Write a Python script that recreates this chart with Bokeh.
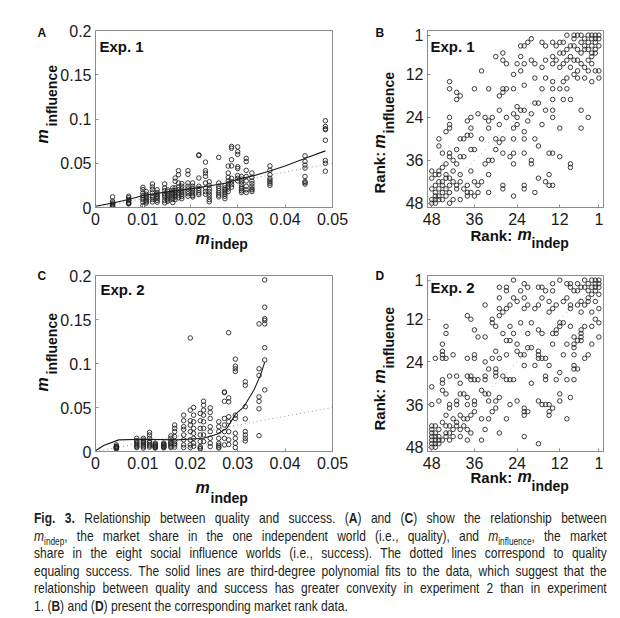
import math
from bokeh.plotting import figure
from bokeh.models import Range1d, FixedTicker, CustomJSTickFormatter, Label, Div, GridBox
from bokeh.layouts import column, row
from bokeh.embed import file_html
from bokeh.resources import INLINE

# ---------------- data ----------------
# Panel A (Exp. 1): market share in independent world vs. 8 influence worlds
a_indep = [0.0036, 0.0070, 0.0100, 0.0107, 0.0120, 0.0130, 0.0146, 0.0152, 0.0163, 0.0168,
           0.0175, 0.0182, 0.0195, 0.0205, 0.0218, 0.0232, 0.0240, 0.0260, 0.0273, 0.0280,
           0.0287, 0.0300, 0.0308, 0.0318, 0.0330, 0.0368, 0.0442, 0.0485]
a_influence = [
    [0.0120, 0.0052, 0.0030, 0.0010, 0.0005, 0.0020, 0.0040, 0.0070],
    [0.0127, 0.0090, 0.0041, 0.0050, 0.0060, 0.0110, 0.0080, 0.0045],
    [0.0228, 0.0202, 0.0165, 0.0135, 0.0109, 0.0090, 0.0060, 0.0022],
    [0.0180, 0.0150, 0.0130, 0.0110, 0.0095, 0.0080, 0.0065, 0.0050],
    [0.0266, 0.0232, 0.0202, 0.0165, 0.0127, 0.0090, 0.0063, 0.0110],
    [0.0200, 0.0170, 0.0150, 0.0130, 0.0115, 0.0100, 0.0080, 0.0060],
    [0.0266, 0.0221, 0.0191, 0.0154, 0.0116, 0.0079, 0.0052, 0.0135],
    [0.0200, 0.0180, 0.0160, 0.0140, 0.0120, 0.0100, 0.0085, 0.0070],
    [0.0221, 0.0190, 0.0170, 0.0150, 0.0130, 0.0110, 0.0090, 0.0055],
    [0.0333, 0.0296, 0.0221, 0.0190, 0.0165, 0.0140, 0.0120, 0.0090],
    [0.0416, 0.0371, 0.0277, 0.0230, 0.0200, 0.0170, 0.0140, 0.0110],
    [0.0270, 0.0240, 0.0210, 0.0185, 0.0165, 0.0145, 0.0125, 0.0100],
    [0.0416, 0.0375, 0.0277, 0.0240, 0.0210, 0.0180, 0.0155, 0.0127],
    [0.0277, 0.0240, 0.0215, 0.0195, 0.0175, 0.0155, 0.0135, 0.0120],
    [0.0595, 0.0588, 0.0333, 0.0240, 0.0215, 0.0190, 0.0165, 0.0145],
    [0.0513, 0.0416, 0.0390, 0.0352, 0.0277, 0.0220, 0.0180, 0.0150],
    [0.0290, 0.0250, 0.0210, 0.0180, 0.0150, 0.0120, 0.0090, 0.0065],
    [0.0566, 0.0277, 0.0240, 0.0215, 0.0190, 0.0165, 0.0140, 0.0120],
    [0.0247, 0.0202, 0.0165, 0.0127, 0.0100, 0.0150, 0.0185, 0.0220],
    [0.0468, 0.0390, 0.0340, 0.0300, 0.0270, 0.0240, 0.0210, 0.0180],
    [0.0690, 0.0670, 0.0540, 0.0470, 0.0330, 0.0290, 0.0260, 0.0230],
    [0.0685, 0.0630, 0.0600, 0.0460, 0.0440, 0.0360, 0.0330, 0.0300],
    [0.0350, 0.0320, 0.0290, 0.0260, 0.0230, 0.0210, 0.0190, 0.0170],
    [0.0555, 0.0520, 0.0420, 0.0350, 0.0300, 0.0240, 0.0200, 0.0170],
    [0.0390, 0.0340, 0.0300, 0.0270, 0.0240, 0.0210, 0.0200, 0.0180],
    [0.0470, 0.0420, 0.0370, 0.0330, 0.0310, 0.0290, 0.0270, 0.0250],
    [0.0584, 0.0520, 0.0480, 0.0445, 0.0350, 0.0295, 0.0280, 0.0265],
    [0.0980, 0.0915, 0.0890, 0.0880, 0.0760, 0.0530, 0.0500, 0.0410],
]
# third-degree polynomial fit (solid line)
a_fit_x = [0.0, 0.0036, 0.0070, 0.0100, 0.0137, 0.0172, 0.0200, 0.0235, 0.0277, 0.0300,
           0.0334, 0.0366, 0.0400, 0.0440, 0.0485]
a_fit_y = [0.0015, 0.0050, 0.0090, 0.0135, 0.0165, 0.0190, 0.0210, 0.0240, 0.0277, 0.0320,
           0.0360, 0.0410, 0.0470, 0.0550, 0.0640]

# Panel C (Exp. 2)
c_indep = [0.0044, 0.0087, 0.0101, 0.0114, 0.0126, 0.0144, 0.0159, 0.0167, 0.0186, 0.0200,
           0.0207, 0.0221, 0.0228, 0.0242, 0.0260, 0.0272, 0.0281, 0.0295, 0.0316, 0.0345, 0.0357]
c_influence = [
    [0.0075, 0.0060, 0.0055, 0.0050, 0.0045, 0.0040, 0.0035, 0.0030],
    [0.0150, 0.0124, 0.0110, 0.0094, 0.0080, 0.0068, 0.0055, 0.0045],
    [0.0150, 0.0130, 0.0115, 0.0100, 0.0085, 0.0070, 0.0055, 0.0040],
    [0.0218, 0.0188, 0.0150, 0.0120, 0.0100, 0.0080, 0.0065, 0.0050],
    [0.0095, 0.0085, 0.0075, 0.0068, 0.0060, 0.0052, 0.0045, 0.0040],
    [0.0095, 0.0085, 0.0078, 0.0070, 0.0062, 0.0055, 0.0048, 0.0042],
    [0.0177, 0.0150, 0.0120, 0.0100, 0.0090, 0.0075, 0.0060, 0.0045],
    [0.0301, 0.0263, 0.0226, 0.0170, 0.0113, 0.0090, 0.0075, 0.0050],
    [0.0413, 0.0350, 0.0282, 0.0252, 0.0188, 0.0132, 0.0075, 0.0045],
    [0.1290, 0.0470, 0.0350, 0.0300, 0.0226, 0.0132, 0.0075, 0.0045],
    [0.0500, 0.0413, 0.0338, 0.0263, 0.0207, 0.0150, 0.0094, 0.0060],
    [0.0432, 0.0350, 0.0263, 0.0188, 0.0113, 0.0056, 0.0040, 0.0030],
    [0.0571, 0.0526, 0.0470, 0.0413, 0.0338, 0.0263, 0.0188, 0.0113],
    [0.0496, 0.0444, 0.0376, 0.0282, 0.0226, 0.0150, 0.0094, 0.0056],
    [0.0338, 0.0282, 0.0226, 0.0150, 0.0094, 0.0070, 0.0050, 0.0040],
    [0.0677, 0.0669, 0.0571, 0.0376, 0.0301, 0.0226, 0.0150, 0.0075],
    [0.1350, 0.0609, 0.0564, 0.0395, 0.0338, 0.0226, 0.0132, 0.0080],
    [0.1050, 0.0970, 0.0940, 0.0910, 0.0413, 0.0376, 0.0207, 0.0150, 0.0094, 0.0045],
    [0.0792, 0.0752, 0.0509, 0.0370, 0.0226, 0.0188, 0.0150, 0.0120],
    [0.1450, 0.0940, 0.0865, 0.0620, 0.0570, 0.0485, 0.0180],
    [0.1950, 0.1640, 0.1510, 0.1490, 0.1450, 0.1180, 0.1040, 0.0700],
]
c_fit_x = [0.0, 0.0017, 0.0049, 0.0101, 0.0172, 0.0228, 0.0256, 0.0277, 0.0295, 0.0313,
           0.0334, 0.0348, 0.0357]
c_fit_y = [0.0008, 0.0068, 0.0132, 0.0139, 0.0132, 0.0150, 0.0195, 0.0263, 0.0421, 0.0508,
           0.0695, 0.0865, 0.1015]

# quality equals success (dotted lines)
equal_share = [0.0, 0.05]
equal_rank = [48, 1]

# Panel B (Exp. 1): (rank in independent world, rank in an influence world)
b_ranks = [
    (1, 1), (2, 1), (2, 2), (3, 2), (4, 3), (5, 4), (6, 3), (7, 1), (8, 1), (8, 2), (9, 4), (10, 1),
    (11, 3), (12, 3), (13, 4), (14, 3), (16, 4), (17, 3), (20, 2), (21, 3), (22, 4), (23, 4),
    (2, 5), (3, 6), (3, 7), (5, 5), (6, 6), (7, 8), (8, 8), (9, 7), (10, 8), (11, 6), (11, 9),
    (12, 10), (14, 9), (14, 7), (16, 8), (17, 10), (19, 9), (20, 8), (22, 9), (23, 7), (24, 9),
    (27, 9), (28, 6), (28, 8), (30, 7), (34, 11), (7, 11), (4, 11), (2, 11), (1, 11),
    (1, 13), (3, 14), (5, 13), (7, 13), (8, 12), (10, 13), (10, 16), (11, 14), (12, 16), (14, 14),
    (14, 16), (16, 13), (17, 16), (19, 13), (22, 15), (23, 11), (25, 12), (25, 16), (27, 16),
    (28, 16), (29, 18), (28, 17), (32, 16), (36, 16), (43, 14), (43, 16), (41, 17),
    (6, 22), (4, 24), (9, 19), (11, 19), (14, 19), (14, 22), (16, 22), (18, 20), (19, 20), (20, 23),
    (22, 22), (23, 22), (24, 21), (25, 23), (27, 24), (29, 22), (31, 24), (33, 24), (35, 23),
    (37, 24), (38, 25), (40, 18), (41, 19), (43, 24), (43, 26),
    (6, 27), (12, 27), (14, 24), (17, 26), (19, 30), (21, 25), (22, 30), (22, 28), (24, 24),
    (24, 26), (25, 27), (25, 30), (28, 30), (29, 26), (30, 30), (32, 25), (32, 27), (34, 30),
    (37, 29), (38, 29), (37, 27), (39, 30), (40, 30), (43, 27), (44, 28), (46, 30),
    (9, 37), (12, 35), (14, 34), (15, 34), (18, 32), (20, 37), (20, 36), (22, 34), (25, 34),
    (26, 35), (28, 34), (29, 31), (30, 33), (31, 36), (33, 37), (32, 36), (36, 33), (37, 33),
    (39, 35), (40, 35), (41, 33), (43, 34), (43, 35), (45, 34), (46, 32),
    (9, 38), (15, 40), (16, 42), (18, 41), (22, 43), (25, 37), (28, 43), (32, 40), (34, 42),
    (35, 43), (37, 39), (38, 43), (38, 45), (40, 40), (41, 43), (42, 39), (43, 43), (44, 41),
    (45, 42), (45, 38), (46, 39), (46, 40), (46, 42), (45, 43), (47, 43), (48, 41),
    (14, 43), (15, 43), (19, 45), (22, 44), (25, 46), (28, 44), (32, 45), (35, 45), (36, 46),
    (38, 46), (40, 47), (42, 47), (43, 45), (43, 48), (44, 46), (45, 45), (46, 47), (47, 46),
    (48, 47), (48, 48), (47, 48),
    (1, 2), (2, 3), (3, 4), (4, 5), (1, 4), (2, 6), (3, 9), (4, 8), (5, 10), (6, 9), (5, 2),
    (7, 5), (8, 4), (9, 10), (10, 5), (12, 6), (13, 8), (4, 1), (3, 1), (6, 1),
    (47, 45), (46, 44), (48, 44), (44, 44), (45, 47), (46, 46), (47, 47), (44, 40), (43, 41),
    (42, 42), (41, 44), (40, 42), (39, 44), (36, 42), (37, 45), (42, 36), (41, 37), (44, 37),
    (48, 39), (47, 40),
]

# Panel D (Exp. 2)
d_ranks = [
    (1, 1), (2, 1), (2, 2), (3, 1), (4, 2), (5, 1), (6, 3), (7, 4), (7, 2), (8, 4), (9, 2), (9, 3),
    (10, 2), (12, 1), (14, 2), (14, 4), (16, 4), (17, 3), (18, 3), (21, 3), (22, 2), (23, 4),
    (25, 1), (27, 3), (27, 4), (29, 3), (29, 6),
    (1, 2), (3, 5), (2, 3), (4, 7), (5, 8), (6, 7), (7, 8), (9, 8), (9, 9), (10, 6), (11, 7),
    (13, 8), (14, 9), (15, 10), (15, 7), (17, 6), (18, 8), (19, 9), (21, 8), (22, 6), (22, 9),
    (24, 7), (25, 6), (26, 8), (27, 9), (28, 10), (29, 9), (29, 11), (33, 8), (37, 12), (38, 11),
    (31, 12),
    (1, 13), (3, 14), (5, 14), (6, 15), (6, 16), (6, 17), (7, 18), (8, 17), (9, 14), (11, 13),
    (12, 14), (12, 13), (13, 15), (13, 16), (14, 16), (17, 16), (18, 15), (20, 13), (21, 16),
    (23, 13), (25, 16), (26, 14), (27, 18), (28, 16), (30, 14), (31, 13), (33, 17), (36, 15),
    (35, 17), (44, 14), (44, 16),
    (1, 17), (3, 19), (4, 22), (5, 23), (6, 18), (8, 19), (8, 20), (8, 22), (10, 19), (11, 22),
    (14, 19), (16, 23), (17, 23), (18, 21), (18, 22), (18, 23), (20, 20), (21, 20), (22, 22),
    (23, 22), (24, 21), (24, 19), (26, 18), (27, 22), (29, 23), (30, 21), (31, 23), (33, 24),
    (36, 23), (36, 22), (38, 23), (42, 22), (45, 19), (45, 21), (45, 22), (45, 23), (47, 23),
    (44, 23),
    (7, 26), (8, 26), (8, 25), (10, 29), (12, 27), (13, 29), (15, 25), (16, 28), (16, 29),
    (19, 25), (20, 30), (22, 25), (25, 29), (26, 29), (27, 29), (28, 28), (30, 26), (30, 28),
    (30, 27), (32, 26), (33, 28), (33, 29), (35, 29), (36, 29), (37, 29), (37, 28), (38, 28),
    (40, 30), (41, 28), (43, 28), (45, 29), (45, 30), (48, 31),
    (8, 29), (9, 34), (12, 33), (12, 35), (14, 37), (15, 36), (16, 36), (18, 35), (21, 38),
    (22, 37), (24, 35), (26, 36), (29, 34), (30, 35), (32, 35), (32, 33), (33, 33), (34, 32),
    (36, 35), (36, 36), (38, 34), (38, 36), (39, 33), (40, 33), (41, 35), (41, 36), (43, 37),
    (43, 36), (44, 33), (45, 32), (46, 35), (48, 36),
    (10, 40), (15, 38), (15, 39), (17, 36), (22, 38), (22, 39), (27, 40), (30, 37), (31, 38),
    (32, 40), (34, 40), (36, 38), (37, 39), (38, 40), (40, 39), (41, 42), (42, 43), (43, 42),
    (44, 42), (45, 41), (46, 43), (47, 42), (48, 43), (48, 42), (41, 41), (39, 42), (38, 43),
    (18, 47), (22, 45), (29, 44), (33, 43), (34, 46), (37, 44), (38, 46), (40, 45), (42, 45),
    (43, 44), (44, 44), (45, 46), (46, 47), (47, 47), (48, 46), (48, 47), (48, 45), (47, 48),
    (48, 48),
    (1, 3), (2, 4), (3, 3), (4, 4), (1, 5), (2, 7), (5, 3), (4, 6), (3, 10), (6, 10), (1, 9),
    (2, 12), (47, 45), (46, 45), (48, 44), (47, 44), (46, 46), (44, 45), (43, 46), (47, 46),
    (42, 40), (40, 43), (39, 40), (44, 39),
]

share_ticks = [0, 0.01, 0.02, 0.03, 0.04, 0.05]
infl_ticks = [0, 0.05, 0.1, 0.15, 0.2]
rank_ticks = [1, 12, 24, 36, 48]

caption_lines = [
    '<b>Fig. 3.</b> Relationship between quality and success. (<b>A</b>) and (<b>C</b>) show the relationship between',
    '<i>m</i><sub style="font-size:10px;line-height:0;">indep</sub>, the market share in the one independent world (i.e., quality), and <i>m</i><sub style="font-size:10px;line-height:0;">influence</sub>, the market',
    'share in the eight social influence worlds (i.e., success). The dotted lines correspond to quality',
    'equaling success. The solid lines are third-degree polynomial fits to the data, which suggest that the',
    'relationship between quality and success has greater convexity in experiment 2 than in experiment',
    '1. (<b>B</b>) and (<b>D</b>) present the corresponding market rank data.',
]

# ---------------- styling helpers ----------------
GRAY = "#8c8c8c"
FONT = "Liberation Sans"
MARK = "#262626"


def make_fig(w, h, bl, br, bt, bb, xr, yr):
    p = figure(width=w, height=h, x_range=xr, y_range=yr, output_backend="svg",
               toolbar_location=None, min_border_left=bl, min_border_right=br,
               min_border_top=bt, min_border_bottom=bb)
    p.grid.visible = False
    p.outline_line_color = GRAY
    p.outline_line_width = 1
    p.background_fill_color = "white"
    p.border_fill_color = "white"
    for ax in p.axis:
        ax.axis_line_color = GRAY
        ax.major_tick_line_color = GRAY
        ax.major_tick_in = 3
        ax.major_tick_out = 0
        ax.minor_tick_in = 0
        ax.minor_tick_out = 0
        ax.major_label_text_font = FONT
        ax.major_label_text_font_size = "16px"
        ax.major_label_text_color = "#1a1a1a"
    p.xaxis.major_label_standoff = 5
    p.yaxis.major_label_standoff = 4
    return p


def share_panel(w, h, bl, br, bt, bb, indep, influence, fit_x, fit_y):
    p = make_fig(w, h, bl, br, bt, bb, Range1d(0, 0.05), Range1d(0, 0.2))
    p.xaxis.ticker = FixedTicker(ticks=share_ticks)
    p.yaxis.ticker = FixedTicker(ticks=infl_ticks)
    p.xaxis.formatter = CustomJSTickFormatter(code="return String(+tick.toFixed(4));")
    p.yaxis.formatter = CustomJSTickFormatter(code="return String(+tick.toFixed(4));")
    xs = [x for x, ys in zip(indep, influence) for _ in ys]
    ys = [y for yy in influence for y in yy]
    p.line(equal_share, equal_share, line_color="#9a9a9a", line_width=1, line_dash="1 3")
    p.scatter(xs, ys, marker="circle", size=4.5, fill_color=None, line_color=MARK,
              line_width=0.9)
    p.line(fit_x, fit_y, line_color="#1a1a1a", line_width=1.1)
    return p


def rank_panel(w, h, bl, br, bt, bb, pairs):
    p = make_fig(w, h, bl, br, bt, bb, Range1d(49.2, -0.3), Range1d(49.2, -0.3))
    p.xaxis.ticker = FixedTicker(ticks=rank_ticks)
    p.yaxis.ticker = FixedTicker(ticks=rank_ticks)
    xs = [a for a, b in pairs]
    ys = [b for a, b in pairs]
    p.line(equal_rank, equal_rank, line_color="#b0b0b0", line_width=1, line_dash="1 4")
    p.scatter(xs, ys, marker="circle", size=4.5, fill_color=None, line_color=MARK,
              line_width=0.9)
    return p


pA = share_panel(350, 258, 95, 18, 30, 50, a_indep, a_influence, a_fit_x, a_fit_y)
pB = rank_panel(262, 258, 77, 9, 30, 51, b_ranks)
pC = share_panel(350, 240, 95, 18, 17, 45, c_indep, c_influence, c_fit_x, c_fit_y)
pD = rank_panel(262, 240, 77, 9, 17, 47, d_ranks)
panels = column(row(pA, pB), row(pC, pD))

# ---- transparent overlay carrying all panel texts, in page pixels ----
TW, TH = 612, 510
ov = figure(width=TW, height=TH, x_range=Range1d(0, TW), y_range=Range1d(TH, 0),
            output_backend="svg", toolbar_location=None, x_axis_type=None, y_axis_type=None,
            min_border=0)
ov.grid.visible = False
ov.outline_line_color = None
ov.background_fill_alpha = 0
ov.border_fill_alpha = 0

ROT = math.pi / 2
texts = [
    # text, x, y(baseline), size, style, angle
    ("A", 37, 36, 12, "bold", 0), ("Exp. 1", 99, 51, 15, "bold", 0),
    ("m", 195, 244, 16, "bold italic", 0), ("indep", 210, 248, 14, "bold", 0),
    ("m", 50, 140, 16, "bold italic", ROT), ("influence", 59, 123, 14, "bold", ROT),
    ("B", 375, 36, 12, "bold", 0), ("Exp. 1", 430, 51, 15, "bold", 0),
    ("Rank:", 470, 240, 15, "bold", 0), ("m", 517, 240, 16, "bold italic", 0),
    ("indep", 531, 247, 14, "bold", 0),
    ("Rank:", 387, 190, 15, "bold", ROT), ("m", 387, 145, 16, "bold italic", ROT),
    ("influence", 396, 130, 14, "bold", ROT),
    ("C", 37, 279, 12, "bold", 0), ("Exp. 2", 100, 294, 15, "bold", 0),
    ("m", 195, 493, 16, "bold italic", 0), ("indep", 210, 502, 14, "bold", 0),
    ("m", 50, 388, 16, "bold italic", ROT), ("influence", 59, 371, 14, "bold", ROT),
    ("D", 375, 279, 12, "bold", 0), ("Exp. 2", 430, 292, 15, "bold", 0),
    ("Rank:", 470, 482, 15, "bold", 0), ("m", 517, 482, 16, "bold italic", 0),
    ("indep", 531, 490, 14, "bold", 0),
    ("Rank:", 387, 427, 15, "bold", ROT), ("m", 387, 380, 16, "bold italic", ROT),
    ("influence", 396, 365, 14, "bold", ROT),
]
for t, x, y, s, st, ang in texts:
    if ang == 0:
        xx, yy = x, y - round(0.35 * s)
    else:
        xx, yy = x - 8, y + 3
    ov.add_layout(Label(x=xx, y=yy, text=t, text_font=FONT, text_font_size=f"{s}px",
                        text_font_style=st, text_color="#111111", text_align="left",
                        text_baseline="alphabetic", angle=ang))

stack = GridBox(children=[(panels, 0, 0), (ov, 0, 0)])

line_html = []
for i, ln in enumerate(caption_lines):
    last = "left" if i == len(caption_lines) - 1 else "justify"
    line_html.append(
        f'<div style="width:690px;transform:scaleX(0.83);transform-origin:0 0;white-space:nowrap;'
        f'text-align:justify;text-align-last:{last};">{ln}</div>')

cap = Div(text="".join(line_html), width=573, margin=(0, 0, 0, 34),
          styles={"font-family": '"Liberation Sans", Arial, sans-serif', "font-size": "14.5px",
                  "line-height": "17.5px", "color": "#231f20", "overflow": "hidden"})

layout = column(stack, cap)

with open("out.html", "w") as f:
    f.write(file_html(layout, INLINE))
